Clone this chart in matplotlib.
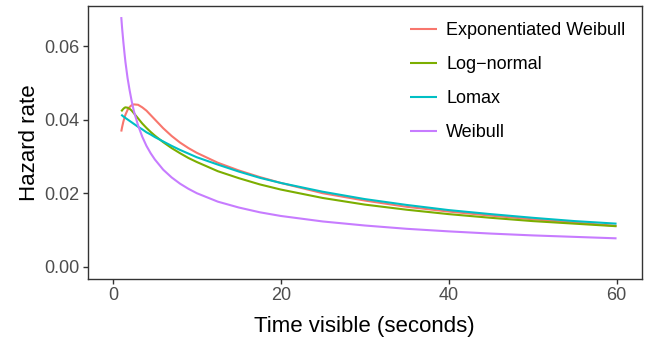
import matplotlib
matplotlib.use("Agg")
import matplotlib.pyplot as plt

# time points (seconds) and hazard values
t = [1, 1.1, 1.25, 1.4, 1.5, 1.75, 2, 2.25, 2.5, 3, 3.5, 4, 4.5, 5, 6, 7, 8, 9, 10,
     12.5, 15, 17.5, 20, 25, 30, 35, 40, 45, 50, 55, 60]

exp_weibull = [0.0368, 0.0380, 0.0395, 0.0407, 0.0414, 0.0427, 0.0435, 0.0440, 0.0442, 0.0441,
               0.0434, 0.0425, 0.0413, 0.0401, 0.0377, 0.0356, 0.0338, 0.0323, 0.0310,
               0.0283, 0.0262, 0.0244, 0.0228, 0.0200, 0.0180, 0.0163, 0.0150, 0.0139,
               0.0129, 0.0120, 0.0111]
log_normal = [0.0423, 0.0426, 0.0430, 0.0433, 0.0434, 0.0433, 0.0430, 0.0425, 0.0418, 0.0404,
              0.0390, 0.0378, 0.0367, 0.0357, 0.0339, 0.0323, 0.0309, 0.0296, 0.0285,
              0.0260, 0.0241, 0.0224, 0.0210, 0.0187, 0.0169, 0.0155, 0.0143, 0.0133,
              0.0124, 0.0117, 0.0110]
lomax = [0.0414, 0.0412, 0.0409, 0.0407, 0.0405, 0.0401, 0.0397, 0.0393, 0.0389, 0.0381,
         0.0374, 0.0366, 0.0360, 0.0353, 0.0341, 0.0329, 0.0318, 0.0308, 0.0298,
         0.0278, 0.0259, 0.0242, 0.0228, 0.0204, 0.0184, 0.0168, 0.0154, 0.0143,
         0.0133, 0.0124, 0.0117]
weibull = [0.0680, 0.0650, 0.0612, 0.0578, 0.0557, 0.0514, 0.0480, 0.0450, 0.0424, 0.0385,
           0.0354, 0.0329, 0.0309, 0.0292, 0.0264, 0.0243, 0.0226, 0.0212, 0.0200,
           0.0177, 0.0161, 0.0148, 0.0138, 0.0123, 0.0112, 0.0103, 0.0096, 0.0090,
           0.0085, 0.0081, 0.0077]

labels = ["Exponentiated Weibull", "Log\u2212normal", "Lomax", "Weibull"]
colors = ["#F8766D", "#7CAE00", "#00BFC4", "#C77CFF"]
xticks = [0, 20, 40, 60]
yticks = [0.00, 0.02, 0.04, 0.06]

plt.rcParams['font.family'] = ['Liberation Sans', 'DejaVu Sans']

fig = plt.figure(figsize=(6.49, 3.39), dpi=100)
ax = fig.add_axes([0.1351, 0.177, 0.9888 - 0.1351, 0.9832 - 0.177])

for series, lab, col in zip([exp_weibull, log_normal, lomax, weibull], labels, colors):
    ax.plot(t, series, color=col, lw=1.5, label=lab, solid_capstyle='butt')

ax.set_xlim(-3, 63)
ax.set_ylim(-0.00338, 0.0711)
ax.set_xticks(xticks)
ax.set_yticks(yticks)
ax.set_yticklabels([f"{v:.2f}" for v in yticks])
ax.tick_params(direction='out', length=3.5, width=1, color='#333333',
               labelcolor='#4D4D4D', labelsize=13, pad=2.5)
for s in ax.spines.values():
    s.set_color('#333333')
    s.set_linewidth(1)

ax.set_xlabel("Time visible (seconds)", fontsize=16, labelpad=8.5)
ax.set_ylabel("Hazard rate", fontsize=16, labelpad=3)

ax.legend(loc='upper left', bbox_to_anchor=(410 / 649, 1 - 22 / 339),
          bbox_transform=fig.transFigure, frameon=False, fontsize=13,
          handlelength=1.5, handletextpad=0.5, labelspacing=0.95,
          borderpad=0, borderaxespad=0)

fig.savefig("out.png", dpi=100)
